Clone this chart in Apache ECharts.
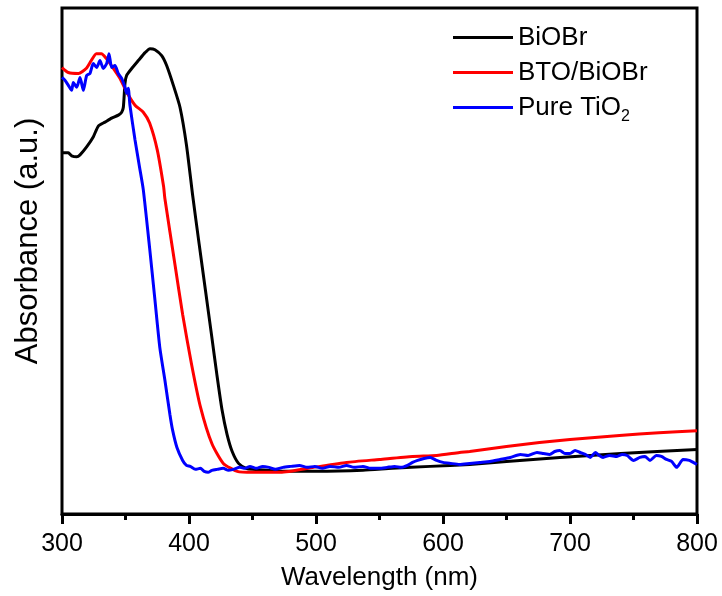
<!DOCTYPE html>
<html>
<head>
<meta charset="utf-8">
<script src="https://cdn.jsdelivr.net/npm/echarts@6/dist/echarts.min.js"></script>
<style>
  html, body { margin: 0; padding: 0; background: #fff; }
  #chart { width: 722px; height: 596px; }
</style>
</head>
<body>
<div id="chart"></div>
<script>
// wavelength range and tick labels
const xTicks = [300, 400, 500, 600, 700, 800]
const seriesNames = ['BiOBr', 'BTO/BiOBr', 'Pure TiO2']

// [wavelength (nm), absorbance (a.u.)]
const biobr = [
  [300, 364], [305, 364], [307.6, 361], [311.6, 360], [314.2, 362], [319.4, 370],
  [324.6, 380], [328.6, 391], [333.9, 395], [339.1, 399], [344.4, 402], [347, 405],
  [348.3, 410], [349.6, 434], [350.9, 442], [354.9, 449], [360.1, 457], [365.4, 465],
  [369.3, 469], [373.2, 468], [378.5, 462], [382.4, 452], [387.7, 432], [392.9, 410],
  [398, 372], [403, 320], [408, 272], [413, 225], [418, 178], [422, 140], [426, 105],
  [430, 80], [434, 63], [439, 51], [445, 46], [450, 45], [475, 43], [500, 43],
  [537, 44], [560, 46], [590, 48], [621, 50], [650, 53], [692, 57], [740, 61], [800, 65]
]

const btoBiobr = [
  [300, 450], [305, 445], [313, 444], [319, 449], [323, 457], [327, 464], [331, 464],
  [335, 459], [340, 450], [345.7, 439], [351, 425], [357.5, 412], [364, 405], [369, 394],
  [375, 367], [380, 330], [381, 318], [389, 251], [395, 201], [402, 151], [409, 108],
  [418, 71], [427, 51], [438, 43], [450, 42], [472, 42], [498, 47], [524, 52], [550, 55],
  [576, 58], [595, 59], [613, 62], [621, 63], [650, 68], [676, 72], [700, 75], [739, 79],
  [770, 82], [800, 84]
]

const tio2 = [
  [300, 440], [302.4, 437], [305, 432], [307.6, 427], [308.9, 435], [311.6, 430],
  [314.2, 440], [316.8, 427], [319.4, 442], [322, 444], [324.6, 454], [327.3, 450],
  [329.9, 457], [332.5, 449], [335.2, 454], [337, 464], [339.1, 450], [341.7, 452],
  [344.3, 444], [347, 439], [349.6, 430], [350.9, 424], [352.2, 429], [353.5, 412],
  [357.5, 377], [361, 350], [364, 327], [369, 268], [373, 218], [377, 168], [381, 135],
  [385, 100], [387, 85], [390.5, 67], [395, 54], [398, 49], [401, 48], [405, 45],
  [409, 46], [412, 43], [415, 42], [418, 44], [422, 45], [427, 46], [431, 44], [435, 45],
  [440, 47], [444, 46], [448, 48], [453, 46], [458, 48], [463, 47], [468, 45], [474, 47],
  [480, 48], [487, 49], [493, 47], [499, 48], [505, 46], [511, 48], [518, 47], [524, 49],
  [530, 47], [537, 48], [543, 46], [550, 46], [556, 47], [562, 48], [567, 47], [572, 49],
  [576, 52], [580, 54], [585, 56], [590, 57], [595, 54], [600, 52], [606, 51], [613, 50],
  [621, 51], [629, 52], [637, 53], [645, 55], [653, 57], [661, 60], [667, 59], [674, 62],
  [679, 61], [684, 60], [688, 63], [692, 64], [696, 61], [700, 61], [704, 64], [708, 62],
  [712, 60], [716, 57], [720, 62], [723, 59], [726, 57], [731, 59], [737, 58], [741, 60],
  [745, 59], [750, 54], [755, 57], [759, 58], [763, 54], [768, 59], [772, 58], [776, 55],
  [780, 53], [784, 47], [789, 55], [794, 54], [797, 52], [800, 50]
]

const colors = ['#000000', '#ff0000', '#0000ff']
const fontFamily = '"Liberation Sans", Arial, sans-serif'

const chart = echarts.init(document.getElementById('chart'), null, { renderer: 'canvas' })

chart.setOption({
  animation: false,
  backgroundColor: '#ffffff',
  grid: {
    left: 62,
    right: 25,
    top: 8,
    bottom: 79,
    show: true,
    borderColor: '#000',
    borderWidth: 3
  },
  legend: {
    orient: 'vertical',
    left: 448,
    top: 15,
    itemWidth: 60,
    itemHeight: 14,
    itemGap: 0,
    icon: 'path://M0,6 L60,6 L60,9 L0,9 Z',
    data: seriesNames,
    textStyle: {
      fontFamily,
      fontSize: 26,
      color: '#000',
      lineHeight: 35,
      rich: {
        sub: { fontFamily, fontSize: 16, verticalAlign: 'bottom', lineHeight: 20 }
      }
    },
    formatter: (name) => (name === 'Pure TiO2' ? 'Pure TiO{sub|2}' : name)
  },
  xAxis: {
    type: 'value',
    min: xTicks[0],
    max: xTicks[xTicks.length - 1],
    interval: 100,
    name: 'Wavelength (nm)',
    nameLocation: 'middle',
    nameGap: 51,
    nameTextStyle: { fontFamily, fontSize: 26, color: '#000' },
    axisLine: { show: true, lineStyle: { color: '#000', width: 3 } },
    axisTick: { show: true, length: 10, lineStyle: { color: '#000', width: 3 } },
    minorTick: { show: true, splitNumber: 2, length: 6, lineStyle: { color: '#000', width: 3 } },
    axisLabel: { fontFamily, fontSize: 25, color: '#000', margin: 18 },
    splitLine: { show: false }
  },
  yAxis: {
    type: 'value',
    min: 0,
    max: 510,
    axisLine: { show: false },
    axisTick: { show: false },
    axisLabel: { show: false },
    splitLine: { show: false }
  },
  graphic: [
    {
      type: 'text',
      x: 28,
      y: 241,
      rotation: Math.PI / 2,
      style: {
        text: 'Absorbance (a.u.)',
        fontFamily,
        fontSize: 31,
        fill: '#000',
        align: 'center',
        verticalAlign: 'middle'
      }
    }
  ],
  series: [biobr, btoBiobr, tio2].map((data, i) => ({
    name: seriesNames[i],
    type: 'line',
    data,
    symbol: 'none',
    smooth: 0.2,
    lineStyle: { color: colors[i], width: 3 },
    itemStyle: { color: colors[i] },
    z: i === 2 ? 3 : 2
  }))
})
</script>
</body>
</html>
